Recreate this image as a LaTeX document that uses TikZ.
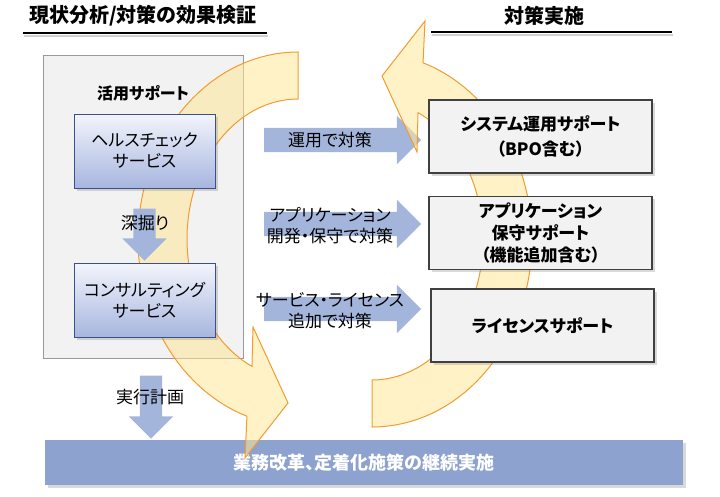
\documentclass[tikz,border=0pt]{standalone}
\usepackage{fontspec}
\setmainfont{Noto Sans CJK JP}[RawFeature=+palt]
\usetikzlibrary{shapes.arrows,shadows}

\definecolor{bandfill}{HTML}{FFE798}
\definecolor{bandline}{HTML}{F29B30}
\definecolor{arrowblue}{HTML}{A4B5DB}
\definecolor{barblue}{HTML}{8DA2CF}
\definecolor{panelgray}{HTML}{F2F2F2}
\definecolor{boxtop}{HTML}{F3F5FC}
\definecolor{boxbottom}{HTML}{A7B6DF}
\definecolor{boxline}{HTML}{3C5088}

\tikzset{
  headtext/.style={inner sep=0pt, font=\fontsize{20}{24}\selectfont\bfseries},
  bodytext/.style={inner sep=0pt, align=center, font=\fontsize{17}{21}\selectfont},
  softshadow/.style={drop shadow={opacity=0.3, shadow xshift=2.5pt, shadow yshift=-2.5pt}},
  panel/.style={draw=gray!80, fill=panelgray, line width=0.8pt},
  bluebox/.style={bodytext, draw=boxline, line width=1pt, top color=boxtop,
    bottom color=boxbottom, minimum width=141, minimum height=74, softshadow},
  graybox/.style={bodytext, font=\fontsize{17}{22}\selectfont\bfseries,
    draw=black!75, line width=1.2pt, fill=panelgray, minimum width=223,
    minimum height=73, softshadow},
  blockarr/.style={single arrow, fill=arrowblue, inner sep=0pt, inner ysep=12pt,
    single arrow head extend=12pt, minimum height=#1},
  downarr/.style={blockarr=#1, inner ysep=11pt, single arrow head extend=11pt,
    rotate=-90},
  loopband/.style={fill=bandfill, fill opacity=0.55, draw=bandline, line width=1pt}
}

% one half of the cycle, centred on the origin
\newcommand\loopband[1]{%
  \filldraw[loopband,#1]
    plot[domain=270:431.4,samples=60] ({160*cos(\x)},{-187*sin(\x)})
    -- (53,-219) -- (10,-164) -- (45,-88) -- (46,-127.4)
    -- plot[domain=425.5:270,samples=60] ({111*cos(\x)},{-140*sin(\x)})
    -- cycle;}

\begin{document}
\begin{tikzpicture}[x=1pt,y=-1pt]
  \useasboundingbox (0,0) rectangle (720,496);

  % headings
  \node[headtext] (headL) at (143,16) {現状分析/対策の効果検証};
  \node[headtext] (headR) at (544,16) {対策実施};
  \draw[gray!35, line width=2pt] (24,35.5) -- (268,35.5);
  \draw[line width=1.2pt] (23,33) -- (267,33);
  \draw[gray!35, line width=2pt] (432,34.5) -- (673,34.5);
  \draw[line width=1.2pt] (431,32) -- (672,32);

  % left panel and bottom bar
  \node[panel, minimum width=200, minimum height=303] (panel) at (143,206.5) {};
  \node[fill=barblue, minimum width=638, minimum height=45, text=white,
    font=\fontsize{18}{22}\selectfont\bfseries, softshadow] (plan) at (364,462.5)
    {業務改革、定着化施策の継続実施};

  % block arrows
  \node[blockarr=157] (opArr) at (336.5,140) {};
  \node[blockarr=157] (appArr) at (336.5,224) {};
  \node[blockarr=157] (licArr) at (336.5,309) {};
  \node[downarr=63] (planArr) at (151,401.5) {};

  % the cycle
  \loopband{shift={(372,240)}}
  \loopband{shift={(298,239)},rotate=180}

  \node[downarr=52] (digArr) at (144.5,229) {};

  % boxes
  \node[bluebox] (hc) at (144.5,151) {ヘルスチェック\\サービス};
  \node[bluebox] (cs) at (144.5,300) {コンサルティング\\サービス};
  \node[graybox] (sys) at (540.5,136.5) {システム運用サポート\\[3pt]（BPO含む）};
  \node[graybox] (app) at (540.5,233) {アプリケーション\\保守サポート\\（機能追加含む）};
  \node[graybox] (lic) at (542.5,325.5) {ライセンスサポート};

  % labels
  \node[bodytext, font=\fontsize{16}{20}\selectfont\bfseries] (use) at (143,93) {活用サポート};
  \node[bodytext] (dig) at (145,223) {深掘り};
  \node[bodytext] (planTxt) at (150,397) {実行計画};
  \node[bodytext] (opTxt) at (330,140) {運用で対策};
  \node[bodytext] (appTxt) at (330,225.5) {アプリケーション\\開発・保守で対策};
  \node[bodytext] (licTxt) at (330,311) {サービス・ライセンス\\追加で対策};
\end{tikzpicture}
\end{document}
